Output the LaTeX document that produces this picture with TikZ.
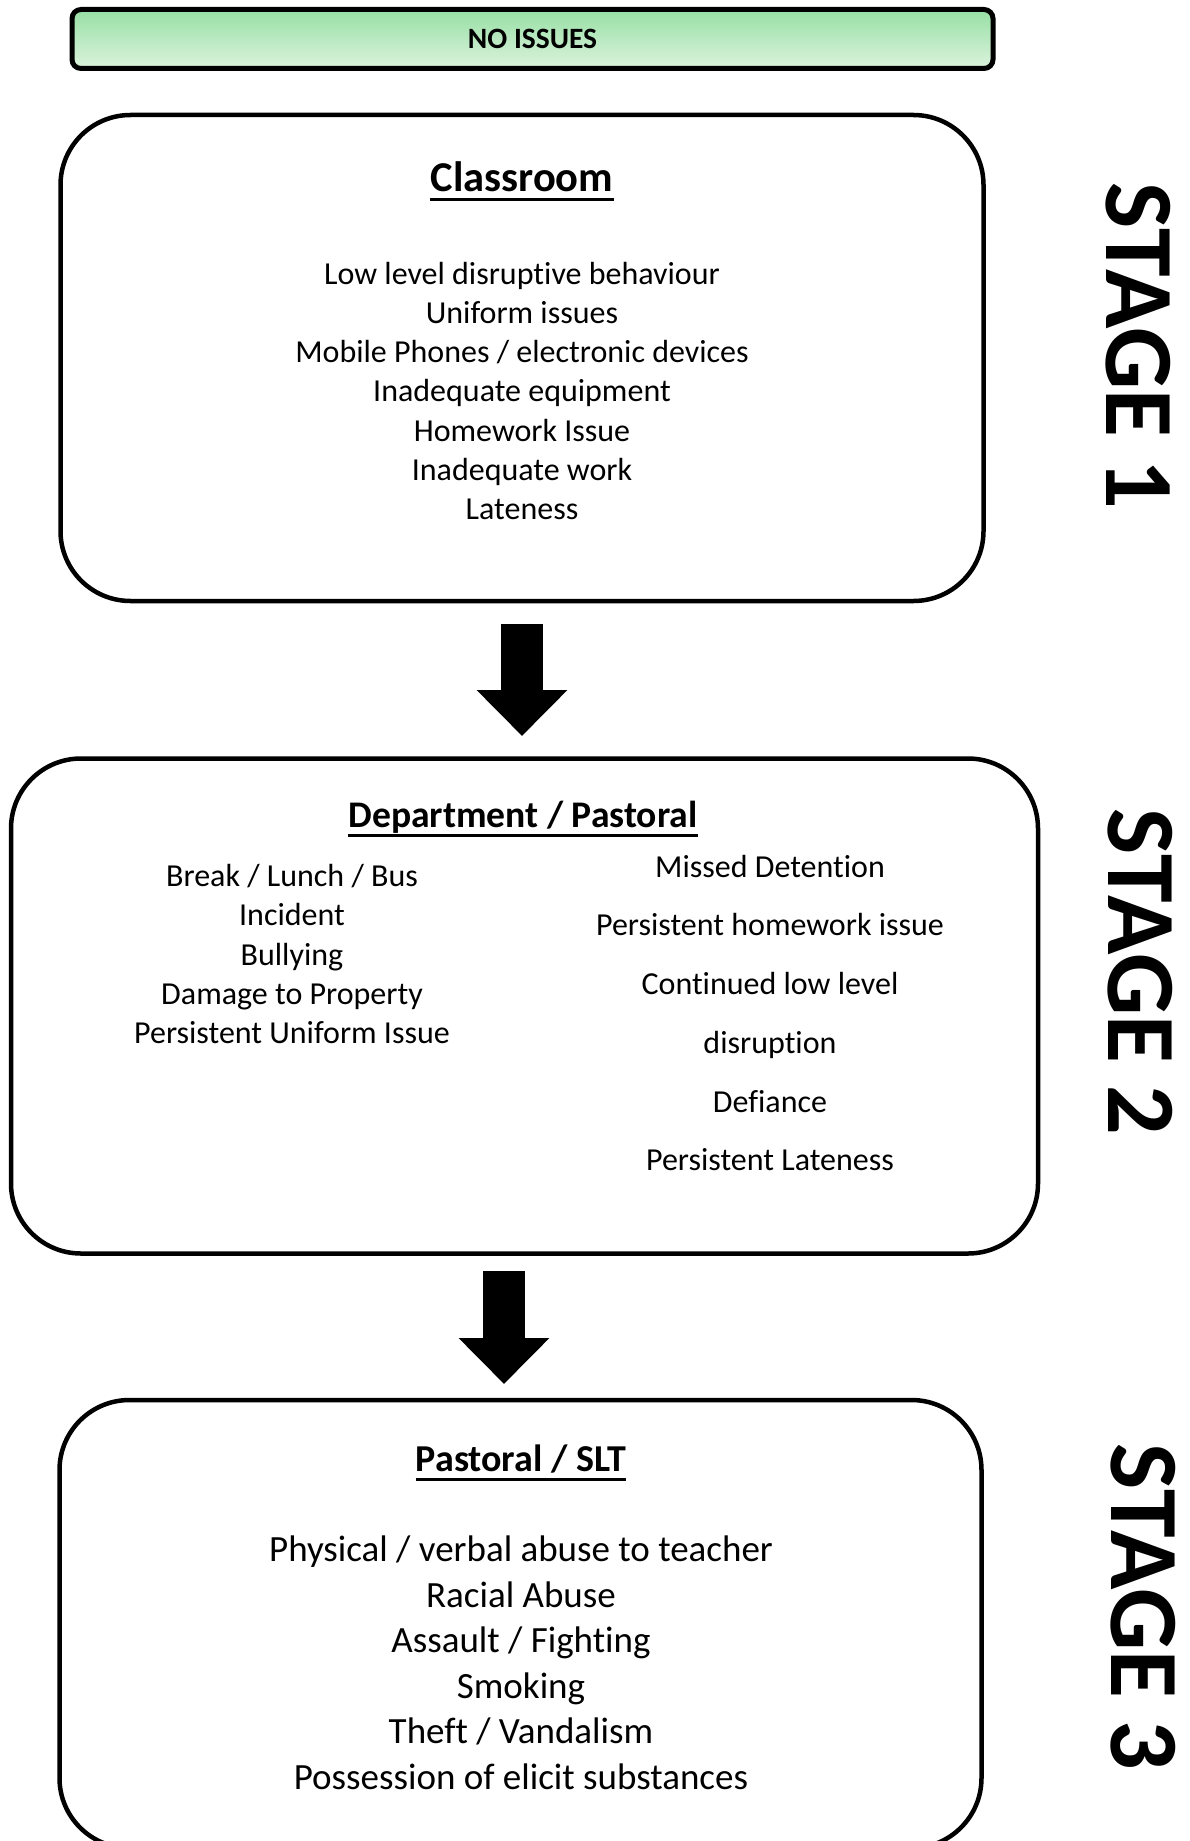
\documentclass[tikz,border=0pt]{standalone}
\usepackage{fontspec}
\setmainfont{Carlito}[Ligatures={NoCommon,NoRequired},Contextuals=NoAlternate]
\usetikzlibrary{arrows.meta}

\definecolor{greentop}{HTML}{97DFA3}
\definecolor{greenbot}{HTML}{DCF3DE}

\tikzset{
  box/.style={draw,line width=4.5pt,rounded corners=70pt},
  banner/.style={draw,line width=5pt,rounded corners=9pt,
    top color=greentop,bottom color=greenbot,
    font=\fontsize{29.5}{32}\selectfont\bfseries},
  heading/.style={inner sep=0pt,font=\fontsize{42.5}{50}\selectfont\bfseries},
  uline/.style={line width=3pt},
  list/.style={align=center,font=\fontsize{32}{39.2}\selectfont},
  stage/.style={rotate=-90,font=\fontsize{98}{110}\selectfont\bfseries},
  bigarrow/.style={line width=42pt,-{Triangle[length=46pt,width=88pt]}},
}

\begin{document}
\begin{tikzpicture}[x=1pt,y=-1pt]

  \clip (0,0) rectangle (1190,1841);

  \node[banner,minimum width=921pt,minimum height=59pt] (0) at (532.5,39) {NO ISSUES};

  \begin{scope}[every node/.style={box}]
    \node[minimum width=923pt,minimum height=486pt] (1) at (522,358) {};
    \node[minimum width=1027pt,minimum height=495pt] (2) at (524.5,1006) {};
    \node[minimum width=922pt,minimum height=448pt] (3) at (520.5,1624) {};
  \end{scope}

  % stage 1
  \node[heading] (h1) at (522,177) {Classroom};
  \node[list] (t1) at (522,391) {Low level disruptive behaviour\\Uniform issues\\
    Mobile Phones / electronic devices\\Inadequate equipment\\Homework Issue\\
    Inadequate work\\Lateness};

  % stage 2
  \node[heading,font=\fontsize{37.6}{44}\selectfont\bfseries] (h2) at (523,817) {Department / Pastoral};
  \node[list] (t2) at (292,954) {Break / Lunch / Bus\\Incident\\Bullying\\
    Damage to Property\\Persistent Uniform Issue};
  \node[list,font=\fontsize{32}{58.7}\selectfont] (t3) at (770,1013) {Missed Detention\\
    Persistent homework issue\\Continued low level\\disruption\\Defiance\\
    Persistent Lateness};

  % stage 3
  \node[heading,font=\fontsize{38}{44}\selectfont\bfseries] (h3) at (521,1459) {Pastoral / SLT};
  \node[list,font=\fontsize{37}{45.5}\selectfont] (t4) at (521,1663) {Physical / verbal abuse to teacher\\
    Racial Abuse\\Assault / Fighting\\Smoking\\Theft / Vandalism\\
    Possession of elicit substances};

  % underlines
  \foreach \h in {h1,h2,h3}
    \draw[uline] ([yshift=-8pt]\h.base west) -- ([yshift=-8pt]\h.base east);

  % stage labels
  \node[stage] (s1) at (1138,346) {STAGE 1};
  \node[stage] (s2) at (1140,972) {STAGE 2};
  \node[stage] (s3) at (1143,1607) {STAGE 3};

  % arrows
  \coordinate (a1) at (522,624);
  \coordinate (b1) at (522,736);
  \coordinate (a2) at (504,1271);
  \coordinate (b2) at (504,1384);
  \draw[bigarrow] (a1) -- (b1);
  \draw[bigarrow] (a2) -- (b2);

\end{tikzpicture}
\end{document}
